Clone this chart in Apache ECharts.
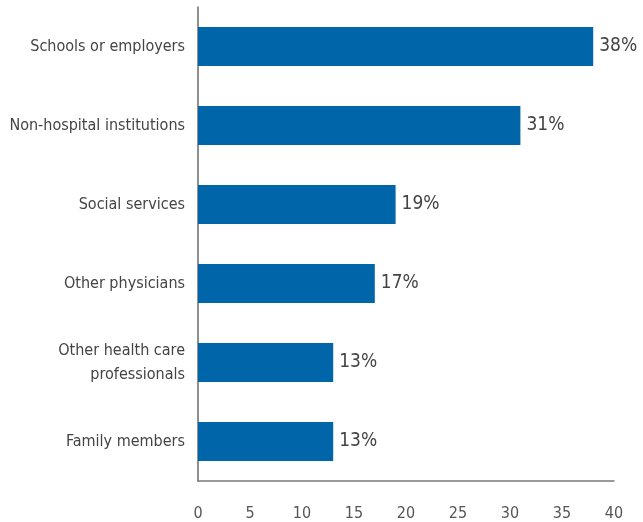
<!DOCTYPE html>
<html>
<head>
<meta charset="utf-8">
<script src="https://cdn.jsdelivr.net/npm/echarts@6/dist/echarts.min.js"></script>
<style>
  html, body { margin: 0; padding: 0; background: #ffffff; }
  #chart { width: 643px; height: 522px; }
</style>
</head>
<body>
<div id="chart"></div>
<script>
// Referral sources, top to bottom
const categories = [
  'Schools or employers',
  'Non-hospital institutions',
  'Social services',
  'Other physicians',
  'Other health care\nprofessionals',
  'Family members'
];
// Share of referrals, percent
const values = [38, 31, 19, 17, 13, 13];
// Horizontal axis ticks
const xTicks = [0, 5, 10, 15, 20, 25, 30, 35, 40];

const FONT = '"DejaVu Sans Condensed", "Liberation Sans", sans-serif';

const chart = echarts.init(document.getElementById('chart'), null, { renderer: 'canvas' });
chart.setOption({
  animation: false,
  backgroundColor: '#ffffff',
  grid: { left: 198, right: 29, top: 7, height: 474, containLabel: false },
  xAxis: {
    type: 'value',
    min: xTicks[0],
    max: xTicks[xTicks.length - 1],
    interval: 5,
    splitLine: { show: false },
    axisTick: { show: false },
    axisLine: { show: true, lineStyle: { color: '#7a7a7a', width: 1.5 } },
    axisLabel: {
      margin: 25,
      color: '#555555',
      fontFamily: FONT,
      fontSize: 16
    }
  },
  yAxis: {
    type: 'category',
    data: categories,
    inverse: true,
    axisTick: { show: false },
    axisLine: { show: true, lineStyle: { color: '#6a6a6a', width: 1.5 } },
    axisLabel: {
      margin: 13,
      color: '#444444',
      fontFamily: FONT,
      fontSize: 16,
      lineHeight: 24,
      align: 'right'
    }
  },
  series: [{
    type: 'bar',
    data: values,
    barWidth: 39,
    itemStyle: { color: '#0065a9' },
    label: {
      show: true,
      position: 'right',
      distance: 6,
      formatter: p => p.value + '%',
      color: '#444444',
      fontFamily: FONT,
      fontSize: 19
    }
  }]
});
</script>
</body>
</html>
